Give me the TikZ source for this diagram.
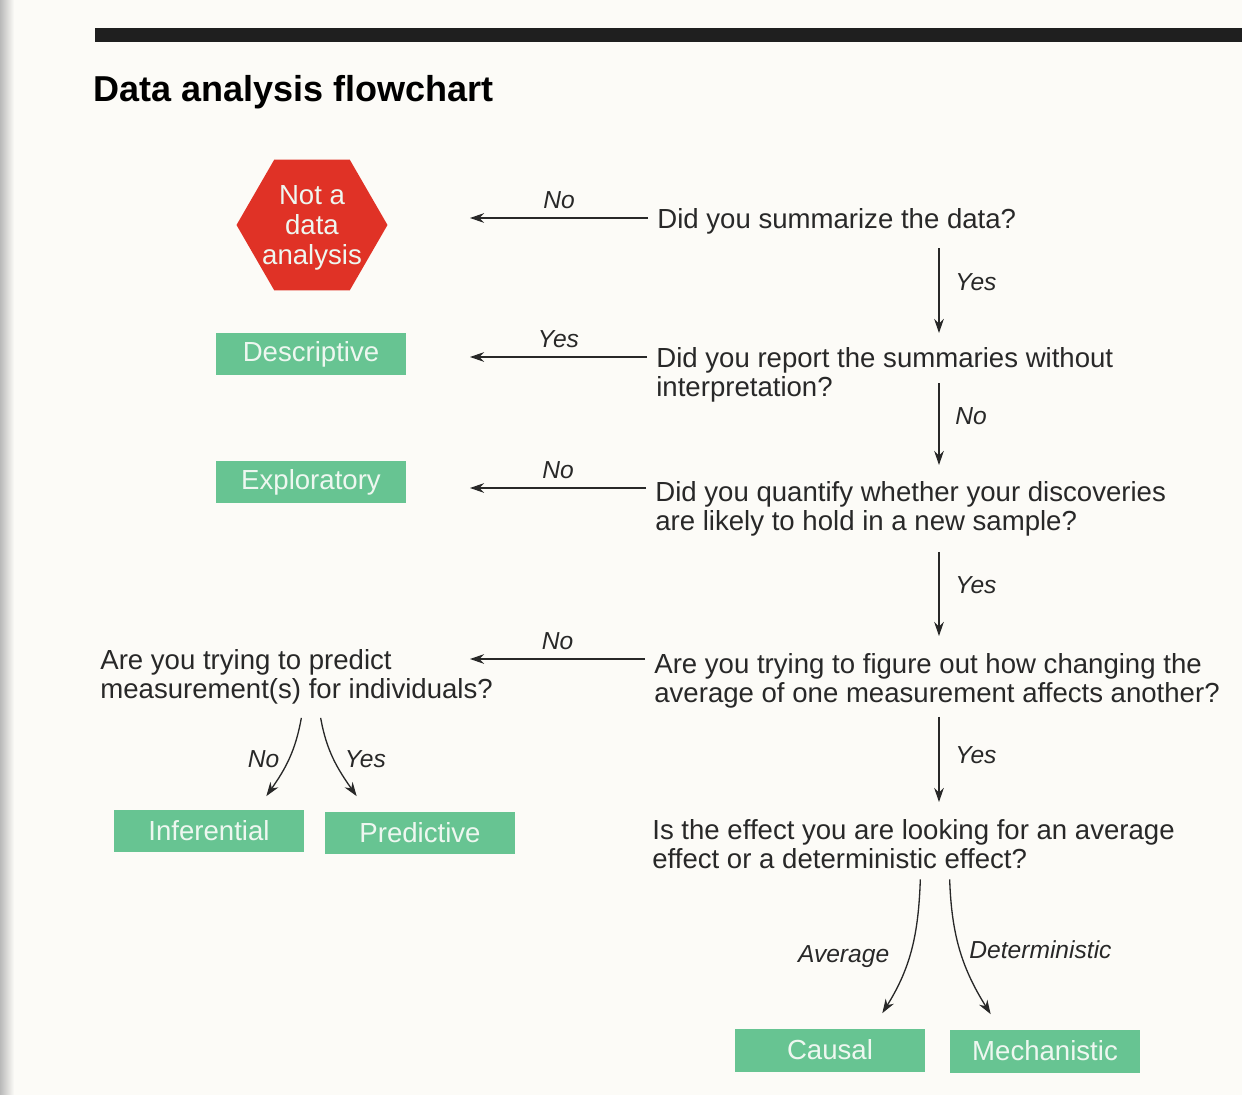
\documentclass[tikz,border=0pt]{standalone}
\usepackage{fontspec}
\setmainfont{Liberation Sans}
\usetikzlibrary{positioning,shapes,arrows.meta,calc}

\definecolor{boxgreen}{RGB}{103,196,146}
\definecolor{hexred}{RGB}{224,50,38}
\definecolor{ink}{RGB}{40,40,40}
\definecolor{paper}{RGB}{252,251,247}
\definecolor{boxtext}{RGB}{238,247,240}

\tikzset{
  question/.style={anchor=north west, inner sep=0pt, align=left, text=ink,
    font=\fontsize{15.7}{16.8}\selectfont},
  result/.style={fill=boxgreen, text=boxtext, minimum width=3.8cm,
    minimum height=0.86cm, inner sep=0pt, font=\fontsize{15.7}{16.8}\selectfont},
  answer/.style={inner sep=2pt, text=ink, font=\fontsize{14}{16}\selectfont\itshape},
  arr/.style={-{Stealth[length=8pt,width=5.5pt]}, draw=ink, line width=0.75pt},
}

\begin{document}
\begin{tikzpicture}[x=0.02cm, y=-0.02cm]
\useasboundingbox (0,0) rectangle (1242,1095);
% Page and header bar
\fill[paper] (0,0) rectangle (1242,1095);
\fill[left color=gray!55, right color=paper] (0,0) rectangle (14,1095);
\fill[black!88] (95,28) rectangle (1242,42);
\node[anchor=west, inner sep=0pt, font=\fontsize{20.5}{24}\selectfont\bfseries] (title) at (93,92) {Data analysis flowchart};

% Outcomes
\node[regular polygon, regular polygon sides=6, minimum size=3.02cm, inner sep=0pt, fill=hexred,
  label={[text=boxtext, align=center, yshift=-0.06cm, font=\fontsize{15.7}{17.2}\selectfont]center:Not a\\data\\analysis}] (hex) at (312,225) {};
\node[result] (desc) at (311,354) {Descriptive};
\node[result] (expl) at (311,482) {Exploratory};
\node[result] (inf) at (209,831) {Inferential};
\node[result] (pred) at (420,833) {Predictive};
\node[result] (causal) at (830,1050) {Causal};
\node[result] (mech) at (1045,1051) {Mechanistic};

% Questions
\node[question] (q1) at (657,208) {Did you summarize the data?};
\node[question] (q2) at (656,347) {Did you report the summaries without\\interpretation?};
\node[question] (q3) at (655,481) {Did you quantify whether your discoveries\\are likely to hold in a new sample?};
\node[question] (q4) at (654,653) {Are you trying to figure out how changing the\\average of one measurement affects another?};
\node[question] (q5) at (100,649) {Are you trying to predict\\measurement(s) for individuals?};
\node[question] (q6) at (652,819) {Is the effect you are looking for an average\\effect or a deterministic effect?};

% Left arrows
\coordinate (stop) at (470,0);
\coordinate (q1out) at ([shift={(-9,10)}]q1.north west);
\coordinate (q2out) at ([shift={(-9,10)}]q2.north west);
\coordinate (q3out) at ([shift={(-9,7)}]q3.north west);
\coordinate (q4out) at ([shift={(-9,6)}]q4.north west);
\draw[arr] (q1out) -- (q1out -| stop) node[answer, midway, above=3pt] {No};
\draw[arr] (q2out) -- (q2out -| stop) node[answer, midway, above=3pt] {Yes};
\draw[arr] (q3out) -- (q3out -| stop) node[answer, midway, above=3pt] {No};
\draw[arr] (q4out) -- (q4out -| stop) node[answer, midway, above=3pt] {No};

% Down arrows
\coordinate (spine) at (939,0);
\draw[arr] ($(q1.south -| spine)+(0,14)$) -- ($(q2.north -| spine)+(0,-14)$) node[answer, pos=.4, right=7pt] {Yes};
\draw[arr] ($(q2.north -| spine)+(0,36)$) -- ($(q3.north -| spine)+(0,-16)$) node[answer, pos=.4, right=7pt] {No};
\draw[arr] ($(q3.south -| spine)+(0,15)$) -- ($(q4.north -| spine)+(0,-17)$) node[answer, pos=.4, right=7pt] {Yes};
\draw[arr] ($(q4.south -| spine)+(0,8)$) -- ($(q6.north -| spine)+(0,-17)$) node[answer, pos=.45, right=7pt] {Yes};

% Branches
\draw[arr] ($(q5.south -| inf.east)+(-3,13)$) to[out=-100,in=55] node[answer, pos=.5, left=3pt] {No} ([shift={(-38,-13)}]inf.north east);
\draw[arr] ($(q5.south -| pred.west)+(-4,13)$) to[out=-80,in=125] node[answer, pos=.5, right=4pt] {Yes} ([shift={(32,-15)}]pred.north west);
\draw[arr] ($(q6.south -| causal.east)+(-5,10)$) to[out=-92,in=58] node[answer, pos=.56, left=9pt] {Average} ([shift={(-43,-15)}]causal.north east);
\draw[arr] ($(q6.south -| mech.west)+(0,10)$) to[out=-88,in=122] node[answer, pos=.5, right=3pt] {Deterministic} ([shift={(41,-15)}]mech.north west);
\end{tikzpicture}
\end{document}
